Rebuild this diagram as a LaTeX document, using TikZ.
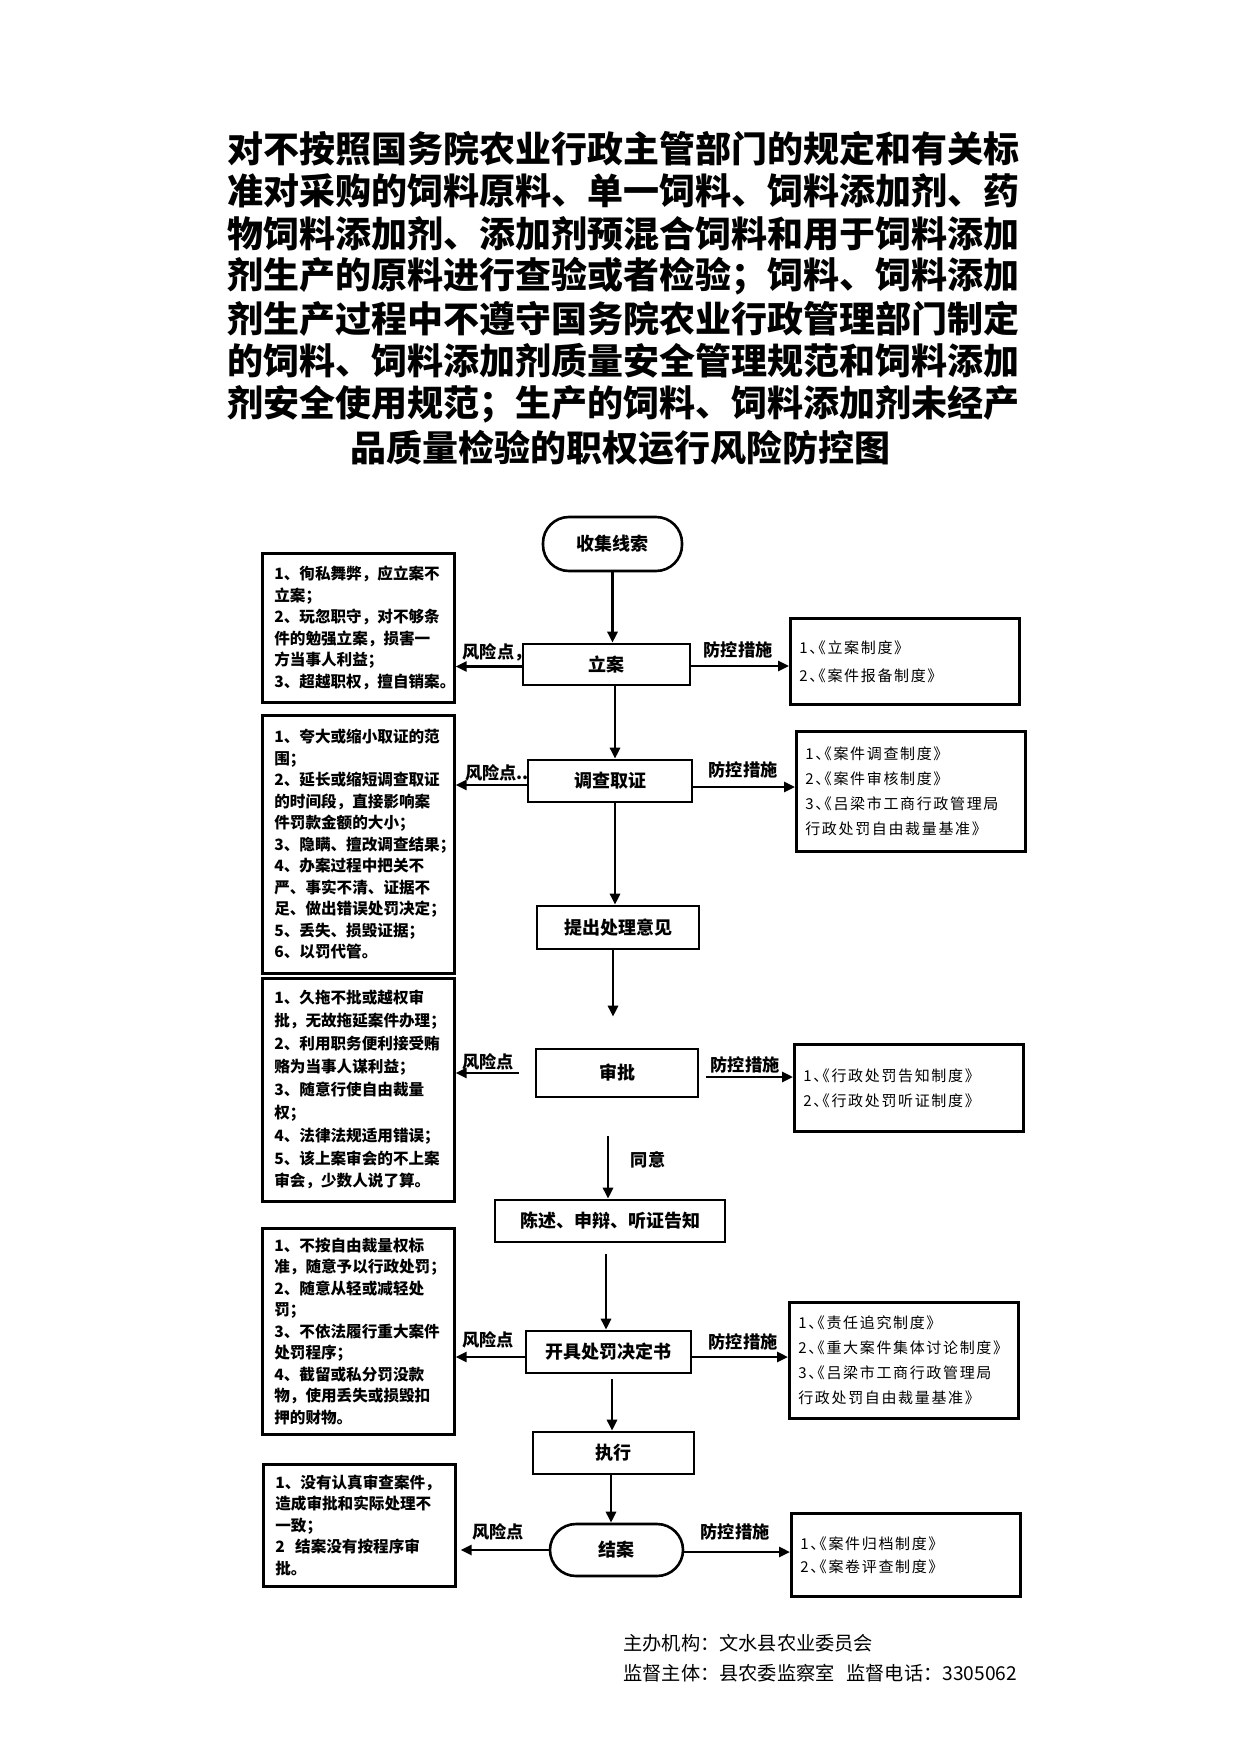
\documentclass[tikz,border=0pt]{standalone}
\usepackage{fontspec}
\setmainfont{Noto Sans CJK SC}
\newfontfamily\ctrlfont{Noto Sans CJK SC}[RawFeature=+halt, LetterSpace=11]
\usetikzlibrary{arrows.meta}
\begin{document}
\begin{tikzpicture}[x=0.5pt,y=-0.5pt,
  box/.style={draw, line width=1.3pt, inner sep=0pt},
  flow/.style={box, font=\bfseries\fontsize{9}{10}\selectfont, align=center},
  stadium/.style={flow, rounded corners=13pt},
  risk/.style={box, anchor=north west, align=left, font=\bfseries\fontsize{7.8}{10.75}\selectfont, text width=84pt, inner xsep=6pt},
  ctrl/.style={box, anchor=north west, align=left, font=\ctrlfont\fontsize{7.5}{12.5}\selectfont, text width=105.5pt, inner xsep=4.5pt},
  lbl/.style={font=\bfseries\fontsize{8.6}{10}\selectfont, inner sep=0pt},
  arr/.style={line width=1.3pt, -{Triangle[length=5.5pt,width=5pt]}},
  ttl/.style={font=\bfseries\fontsize{18}{21}\selectfont, inner sep=0pt},
  foot/.style={font=\fontsize{9.6}{11}\selectfont, inner sep=0pt, anchor=west}
]
\fill[white] (0,0) rectangle (1241,1755);
\useasboundingbox (0,0) rectangle (1241,1755);

% title
\node[ttl, anchor=west] (t1) at (227,149) {对不按照国务院农业行政主管部门的规定和有关标};
\node[ttl, anchor=west] (t2) at (227,191) {准对采购的饲料原料、单一饲料、饲料添加剂、药};
\node[ttl, anchor=west] (t3) at (227,234) {物饲料添加剂、添加剂预混合饲料和用于饲料添加};
\node[ttl, anchor=west] (t4) at (227,276) {剂生产的原料进行查验或者检验；饲料、饲料添加};
\node[ttl, anchor=west] (t5) at (227,319) {剂生产过程中不遵守国务院农业行政管理部门制定};
\node[ttl, anchor=west] (t6) at (227,361) {的饲料、饲料添加剂质量安全管理规范和饲料添加};
\node[ttl, anchor=west] (t7) at (227,404) {剂安全使用规范；生产的饲料、饲料添加剂未经产};
\node[ttl] (t8) at (620,448) {品质量检验的职权运行风险防控图};

% flow nodes
\node[stadium, minimum width=69.5pt, minimum height=27pt] (shouji) at (612.5,544) {收集线索};
\node[flow, minimum width=83.5pt, minimum height=20.5pt] (lian) at (606.5,664.5) {立案};
\node[flow, minimum width=82pt, minimum height=21pt] (diaocha) at (610,781) {调查取证};
\node[flow, minimum width=81pt, minimum height=21.5pt] (tichu) at (618,927.5) {提出处理意见};
\node[flow, minimum width=81pt, minimum height=24pt] (shenpi) at (617,1073) {审批};
\node[flow, minimum width=115pt, minimum height=21pt] (chenshu) at (610,1221) {陈述、申辩、听证告知};
\node[flow, minimum width=82.5pt, minimum height=21pt] (kaiju) at (608.5,1352) {开具处罚决定书};
\node[flow, minimum width=80.5pt, minimum height=21pt] (zhixing) at (613.5,1453) {执行};
\node[stadium, minimum width=66.5pt, minimum height=26pt] (jiean) at (616.5,1550) {结案};

% risk boxes
\node[risk, minimum height=74.5pt] (r1) at (261,552) {1、徇私舞弊，应立案不\\立案；\\2、玩忽职守，对不够条\\件的勉强立案，损害一\\方当事人利益；\\3、超越职权，擅自销案。};
\node[risk, minimum height=129pt] (r2) at (261,714) {1、夸大或缩小取证的范\\围；\\2、延长或缩短调查取证\\的时间段，直接影响案\\件罚款金额的大小；\\3、隐瞒、擅改调查结果；\\4、办案过程中把关不\\严、事实不清、证据不\\足、做出错误处罚决定；\\5、丢失、损毁证据；\\6、以罚代管。};
\node[risk, minimum height=111.5pt, font=\bfseries\fontsize{7.8}{11.45}\selectfont] (r3) at (261,977) {1、久拖不批或越权审\\批，无故拖延案件办理；\\2、利用职务便利接受贿\\赂为当事人谋利益；\\3、随意行使自由裁量\\权；\\4、法律法规适用错误；\\5、该上案审会的不上案\\审会，少数人说了算。};
\node[risk, minimum height=103pt] (r4) at (261,1227) {1、不按自由裁量权标\\准，随意予以行政处罚；\\2、随意从轻或减轻处\\罚；\\3、不依法履行重大案件\\处罚程序；\\4、截留或私分罚没款\\物，使用丢失或损毁扣\\押的财物。};
\node[risk, minimum height=61pt] (r5) at (262,1463) {1、没有认真审查案件，\\造成审批和实际处理不\\一致；\\2\ \ 结案没有按程序审\\批。};

% control boxes
\node[ctrl, minimum height=43pt, font=\ctrlfont\fontsize{7.5}{14}\selectfont] (c1) at (789,617) {1、《立案制度》\\2、《案件报备制度》};
\node[ctrl, minimum height=60pt] (c2) at (795,730) {1、《案件调查制度》\\2、《案件审核制度》\\3、《吕梁市工商行政管理局\\行政处罚自由裁量基准》};
\node[ctrl, minimum height=43.5pt] (c3) at (793,1043) {1、《行政处罚告知制度》\\2、《行政处罚听证制度》};
\node[ctrl, minimum height=58pt] (c4) at (788,1301) {1、《责任追究制度》\\2、《重大案件集体讨论制度》\\3、《吕梁市工商行政管理局\\行政处罚自由裁量基准》};
\node[ctrl, minimum height=41.5pt, font=\ctrlfont\fontsize{7.5}{11.5}\selectfont] (c5) at (790,1512) {1、《案件归档制度》\\2、《案卷评查制度》};

% vertical flow arrows
\draw[arr] (shouji.south) -- (shouji.south |- lian.north);
\draw[arr] ([xshift=4.25pt]lian.south) -- ([xshift=4.25pt]lian.south |- diaocha.north);
\draw[arr] ([xshift=2.5pt]diaocha.south) -- ([xshift=2.5pt]diaocha.south |- tichu.north);
\draw[arr, shorten >=15.5pt] ([xshift=-2.5pt]tichu.south) -- ([xshift=-2.5pt]tichu.south |- shenpi.north);
\draw[arr, shorten <=19pt] ([xshift=-4.5pt]shenpi.south) -- ([xshift=-4.5pt]shenpi.south |- chenshu.north);
\draw[arr, shorten <=5.5pt] ([xshift=-2pt]chenshu.south) -- ([xshift=-2pt]chenshu.south |- kaiju.north);
\draw[arr, shorten <=2.5pt] ([xshift=1.75pt]kaiju.south) -- ([xshift=1.75pt]kaiju.south |- zhixing.north);
\draw[arr] ([xshift=-1.25pt]zhixing.south) -- ([xshift=-1.25pt]zhixing.south |- jiean.north);
\node[lbl] (ty) at (648,1160) {同意};

% risk arrows
\draw[arr] ([yshift=-1pt]lian.west) -- ([yshift=-1pt]lian.west -| r1.east);
\draw[arr] ([yshift=-2pt]diaocha.west) -- ([yshift=-2pt]diaocha.west -| r2.east);
\draw[arr, shorten <=8pt] (shenpi.west) -- (shenpi.west -| r3.east);
\draw[arr] ([yshift=-2.5pt]kaiju.west) -- ([yshift=-2.5pt]kaiju.west -| r4.east);
\draw[arr, shorten >=2pt] (jiean.west) -- (jiean.west -| r5.east);
\node[lbl] (fx1) at (497,652) {风险点，};
\node[lbl] (fx2) at (497,773) {风险点..};
\node[lbl] (fx3) at (488,1062) {风险点};
\node[lbl] (fx4) at (488,1340) {风险点};
\node[lbl] (fx5) at (498,1532) {风险点};

% control arrows
\draw[arr] ([yshift=-0.75pt]lian.east) -- ([yshift=-0.75pt]lian.east -| c1.west);
\draw[arr] ([yshift=-3pt]diaocha.east) -- ([yshift=-3pt]diaocha.east -| c2.west);
\draw[arr, shorten <=3.5pt] ([yshift=-2pt]shenpi.east) -- ([yshift=-2pt]shenpi.east -| c3.west);
\draw[arr] ([yshift=-2.5pt]kaiju.east) -- ([yshift=-2.5pt]kaiju.east -| c4.west);
\draw[arr] ([yshift=-1pt]jiean.east) -- ([yshift=-1pt]jiean.east -| c5.west);
\node[lbl] (fk1) at (738,650) {防控措施};
\node[lbl] (fk2) at (743,770) {防控措施};
\node[lbl] (fk3) at (745,1065) {防控措施};
\node[lbl] (fk4) at (743,1342) {防控措施};
\node[lbl] (fk5) at (735,1532) {防控措施};

% footer
\node[foot] (f1) at (623,1643) {主办机构：文水县农业委员会};
\node[foot] (f2) at (623,1673) {监督主体：县农委监察室\hspace{6pt}监督电话：3305062};
\end{tikzpicture}
\end{document}
